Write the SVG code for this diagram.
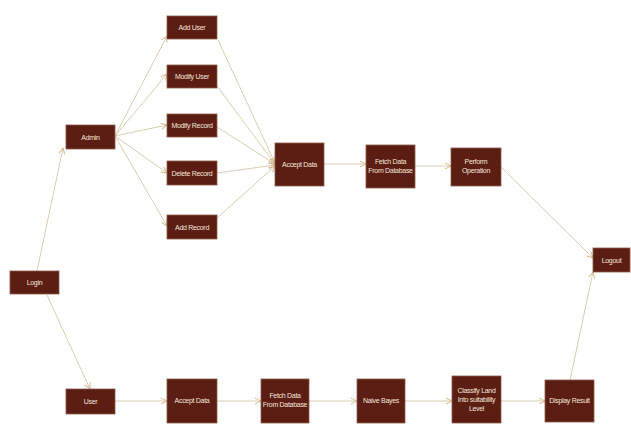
<svg xmlns="http://www.w3.org/2000/svg" width="631" height="424" viewBox="0 0 631 424">
<defs>
<style>
.box{fill:#5c1d13;stroke:#8a5a4a;stroke-width:0.8}
.t{font-family:"Liberation Sans",Arial,sans-serif;font-size:7px;fill:#f2e6d8;text-anchor:middle;letter-spacing:-0.3px}
.e{stroke:#d9ccb0;stroke-width:1;fill:none;marker-end:url(#ah)}
</style>
<marker id="ah" markerWidth="8" markerHeight="8" refX="7" refY="4" orient="auto" markerUnits="userSpaceOnUse">
<path d="M1,1 L7,4 L1,7" fill="none" stroke="#d4b98a" stroke-width="1"/>
</marker>
</defs>
<rect width="631" height="424" fill="#ffffff"/>
<g id="connectors">
<line class="e" x1="37" y1="271" x2="63" y2="148"/>
<line class="e" x1="47" y1="295" x2="90" y2="389"/>
<line class="e" x1="115" y1="136" x2="167" y2="36"/>
<line class="e" x1="115" y1="136" x2="167" y2="74"/>
<line class="e" x1="115" y1="136" x2="167" y2="125"/>
<line class="e" x1="115" y1="136" x2="167" y2="173"/>
<line class="e" x1="115" y1="136" x2="167" y2="226"/>
<line class="e" x1="218" y1="40" x2="275" y2="163"/>
<line class="e" x1="217" y1="86" x2="275" y2="164"/>
<line class="e" x1="217" y1="127" x2="275" y2="164"/>
<line class="e" x1="217" y1="173" x2="275" y2="165"/>
<line class="e" x1="217" y1="218" x2="275" y2="166"/>
<line class="e" x1="324" y1="164" x2="366" y2="164"/>
<line class="e" x1="415" y1="166" x2="451" y2="166"/>
<line class="e" x1="501" y1="167" x2="593" y2="258"/>
<line class="e" x1="570" y1="380" x2="593" y2="272"/>
<line class="e" x1="115" y1="401" x2="167" y2="401"/>
<line class="e" x1="217" y1="401" x2="261" y2="401"/>
<line class="e" x1="309" y1="401" x2="357" y2="401"/>
<line class="e" x1="405" y1="401" x2="452" y2="401"/>
<line class="e" x1="501" y1="401" x2="545" y2="401"/>
</g>
<g id="login"><rect class="box" x="10" y="271" width="49" height="23"/><text class="t" x="34.5" y="285">Login</text></g>
<g id="admin"><rect class="box" x="66" y="125" width="49" height="24"/><text class="t" x="90.5" y="139.5">Admin</text></g>
<g id="adduser"><rect class="box" x="167" y="16" width="50" height="23"/><text class="t" x="192" y="30">Add User</text></g>
<g id="modifyuser"><rect class="box" x="167" y="65" width="50" height="23"/><text class="t" x="192" y="79">Modify User</text></g>
<g id="modifyrecord"><rect class="box" x="167" y="114" width="50" height="23"/><text class="t" x="192" y="128">Modify Record</text></g>
<g id="deleterecord"><rect class="box" x="167" y="161" width="50" height="24"/><text class="t" x="192" y="175.5">Delete Record</text></g>
<g id="addrecord"><rect class="box" x="167" y="215" width="50" height="24"/><text class="t" x="192" y="229.5">Add Record</text></g>
<g id="acceptdata1"><rect class="box" x="275" y="143" width="49" height="43"/><text class="t" x="299.5" y="167">Accept Data</text></g>
<g id="fetch1"><rect class="box" x="366" y="145" width="49" height="43"/><text class="t" x="390.5" y="164">Fetch Data</text><text class="t" x="390.5" y="173">From Database</text></g>
<g id="perform"><rect class="box" x="451" y="148" width="50" height="38"/><text class="t" x="476" y="164">Perform</text><text class="t" x="476" y="173">Operation</text></g>
<g id="logout"><rect class="box" x="593" y="248" width="37" height="24"/><text class="t" x="611.5" y="262.5">Logout</text></g>
<g id="user"><rect class="box" x="66" y="389" width="49" height="25"/><text class="t" x="90.5" y="404">User</text></g>
<g id="acceptdata2"><rect class="box" x="167" y="379" width="50" height="44"/><text class="t" x="192" y="403">Accept Data</text></g>
<g id="fetch2"><rect class="box" x="261" y="379" width="48" height="44"/><text class="t" x="285" y="398">Fetch Data</text><text class="t" x="285" y="407">From Database</text></g>
<g id="naivebayes"><rect class="box" x="357" y="379" width="48" height="44"/><text class="t" x="381" y="403">Naive Bayes</text></g>
<g id="classify"><rect class="box" x="452" y="376" width="49" height="47"/><text class="t" x="476.5" y="393">Classify Land</text><text class="t" x="476.5" y="402">Into suitability</text><text class="t" x="476.5" y="411">Level</text></g>
<g id="display"><rect class="box" x="545" y="380" width="49" height="42"/><text class="t" x="569.5" y="403">Display Result</text></g>
</svg>
